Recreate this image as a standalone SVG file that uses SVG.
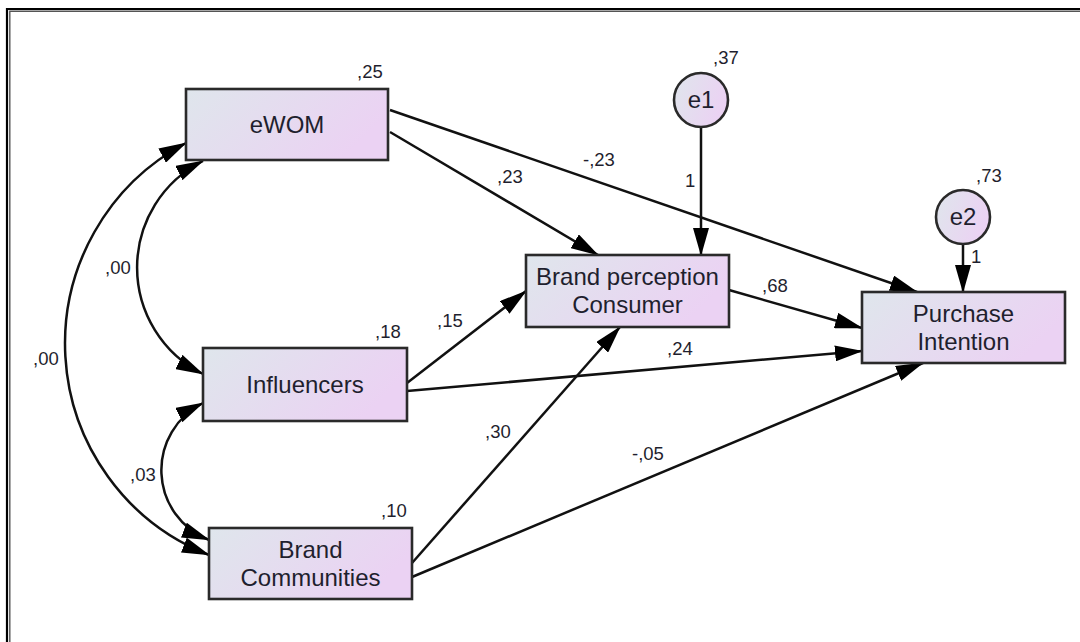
<svg xmlns="http://www.w3.org/2000/svg" width="1080" height="642" viewBox="0 0 1080 642">
<style>
.bg{fill:#ffffff}
.node rect,.node circle{fill:url(#g);stroke:#2a2a2a;stroke-width:2.6}
.lbl{font-family:"Liberation Sans",Arial,sans-serif;font-size:24px;fill:#1f1f2e;text-anchor:middle}
.num{font-family:"Liberation Sans",Arial,sans-serif;font-size:18.5px;fill:#1f1f2e}
.edge{fill:none;stroke:#111;stroke-width:2.5;marker-end:url(#ah)}
.cov{fill:none;stroke:#111;stroke-width:2.5;marker-end:url(#ah);marker-start:url(#ah)}
</style>
<defs>
<linearGradient id="g" x1="0" y1="0" x2="1" y2="0.35">
<stop offset="0" stop-color="#dfe6ec"/>
<stop offset="1" stop-color="#ebd2f3"/>
</linearGradient>
<marker id="ah" markerUnits="userSpaceOnUse" markerWidth="28" markerHeight="16" refX="27" refY="8" orient="auto-start-reverse" viewBox="0 0 28 16">
<path d="M0,0 L28,8 L0,16 z" fill="#000"/>
</marker>
</defs>
<rect class="bg" x="0" y="0" width="1080" height="642"/>
<g id="frame" fill="none">
<path d="M7,642 V9 H1080" stroke="#000" stroke-width="2.2"/>
<path d="M9.8,642 V11.2 H1080" stroke="#555" stroke-width="1.4"/>
</g>
<g id="connectors">
<path class="edge" d="M390,132 L598,255"/>
<path class="edge" d="M390,110 L917,292"/>
<path class="edge" d="M701,127 L701,255"/>
<path class="edge" d="M963,244 L963,292"/>
<path class="edge" d="M729,290 L862,328"/>
<path class="edge" d="M407,383 L526,291"/>
<path class="edge" d="M407,391 L862,351"/>
<path class="edge" d="M412,563 L620,327"/>
<path class="edge" d="M412,577 L923,363"/>
<path class="cov" d="M203,161 A119,119 0 0,0 203,374"/>
<path class="cov" d="M186,143 A227,227 0 0,0 209,555"/>
<path class="cov" d="M203,403 A75,75 0 0,0 209,540"/>
</g>
<g id="eWOM" class="node">
<rect x="186" y="89" width="202" height="71"/>
<text class="lbl" x="287" y="133">eWOM</text>
</g>
<g id="Influencers" class="node">
<rect x="203" y="348" width="204" height="73"/>
<text class="lbl" x="305" y="393">Influencers</text>
</g>
<g id="BrandCommunities" class="node">
<rect x="209" y="528" width="203" height="71"/>
<text class="lbl" x="310.5" y="558">Brand</text>
<text class="lbl" x="310.5" y="586">Communities</text>
</g>
<g id="BrandPerceptionConsumer" class="node">
<rect x="526" y="255" width="203" height="72"/>
<text class="lbl" x="627.5" y="285">Brand perception</text>
<text class="lbl" x="627.5" y="313">Consumer</text>
</g>
<g id="PurchaseIntention" class="node">
<rect x="862" y="292" width="203" height="71"/>
<text class="lbl" x="963.5" y="322">Purchase</text>
<text class="lbl" x="963.5" y="350">Intention</text>
</g>
<g id="e1" class="node">
<circle cx="701" cy="100" r="27"/>
<text class="lbl" x="701" y="108">e1</text>
</g>
<g id="e2" class="node">
<circle cx="963" cy="217" r="27"/>
<text class="lbl" x="963" y="225">e2</text>
</g>
<g id="labels">
<text class="num" x="357" y="78">,25</text>
<text class="num" x="375" y="338">,18</text>
<text class="num" x="381" y="517">,10</text>
<text class="num" x="105" y="274">,00</text>
<text class="num" x="33" y="365">,00</text>
<text class="num" x="130" y="481">,03</text>
<text class="num" x="497" y="183">,23</text>
<text class="num" x="583" y="166">-,23</text>
<text class="num" x="685" y="187">1</text>
<text class="num" x="713" y="64">,37</text>
<text class="num" x="437" y="327">,15</text>
<text class="num" x="762" y="292">,68</text>
<text class="num" x="976" y="182">,73</text>
<text class="num" x="971" y="263">1</text>
<text class="num" x="667" y="355">,24</text>
<text class="num" x="485" y="438">,30</text>
<text class="num" x="632" y="460">-,05</text>
</g>
</svg>
